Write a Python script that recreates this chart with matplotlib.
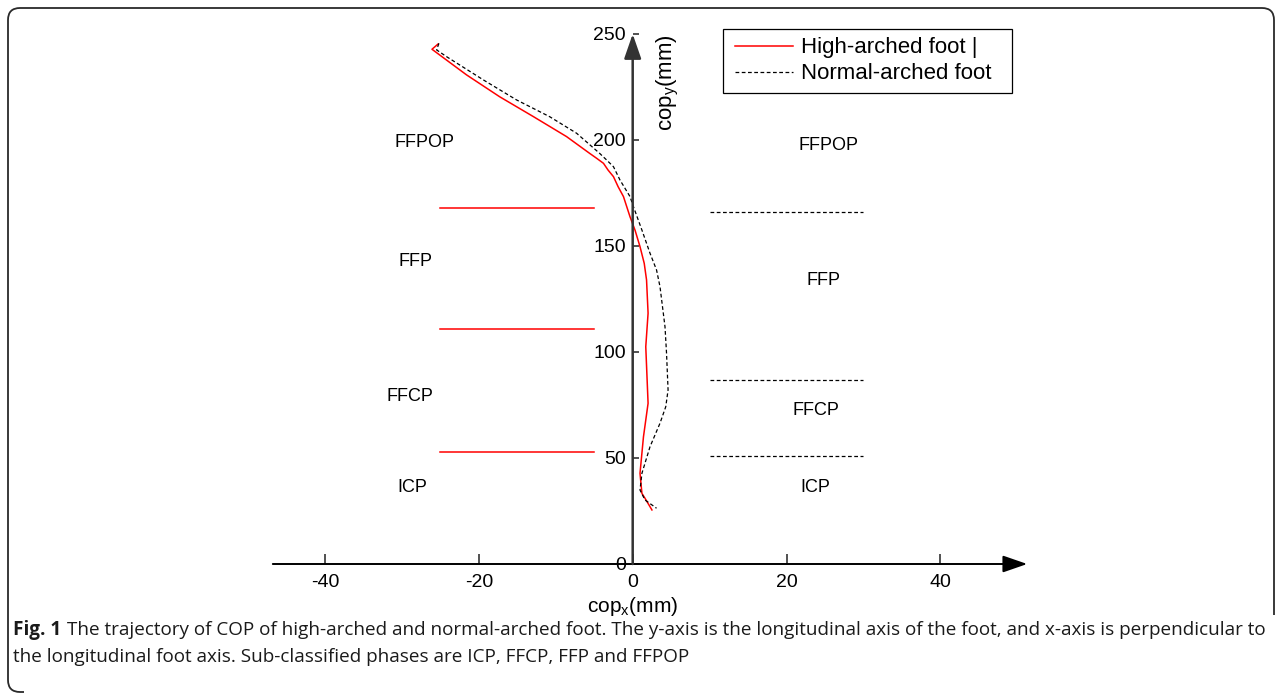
#!/usr/bin/env python3

import matplotlib
matplotlib.use("Agg")
import matplotlib.pyplot as plt
from matplotlib import font_manager
from matplotlib.path import Path
from matplotlib.patches import PathPatch, Rectangle

# COP trajectories (mm)
high_x = [-25.3, -26.1, -25.1, -21.6, -17.3, -12.9, -8.6, -5.6, -4.7, -3.8, -3.2,
          -2.5, -1.9, -1.2, -0.35, 0.3, 0.95, 1.5, 1.8, 2.0, 1.7, 2.0, 1.4, 0.95,
          1.2, 1.6, 2.5]
high_y = [245.3, 242.8, 240.1, 230.7, 220.4, 211.0, 201.6, 193.7, 191.4, 189.0, 185.8,
          182.7, 178.0, 173.3, 163.8, 157.5, 149.7, 141.8, 134.0, 118.3, 102.5, 75.8,
          60.0, 42.8, 33.3, 31.0, 25.5]
normal_x = [-25.2, -25.5, -24.2, -19.4, -15.1, -10.8, -7.3, -4.3, -3.4, -2.5, -1.65,
            -0.35, 0.1, 1.2, 2.25, 3.1, 3.55, 4.2, 4.4, 4.6, 4.3, 3.55, 2.25, 1.2,
            0.95, 1.6, 3.1]
normal_y = [245.6, 242.5, 239.3, 228.3, 218.9, 211.0, 203.2, 193.7, 190.6, 187.4, 181.1,
            173.3, 168.5, 157.5, 146.6, 138.7, 130.8, 111.9, 99.4, 82.1, 74.2, 66.4,
            55.3, 42.8, 34.9, 30.2, 26.3]

# phase boundaries
high_bound_y = [168, 111, 53]
high_bound_x = [-25, -5]
normal_bound_y = [166, 87, 51]
normal_bound_x = [10, 30]

phases = ["FFPOP", "FFP", "FFCP", "ICP"]
left_lab_x = [-27.1, -28.3, -29.0, -28.7]
left_lab_y = [199.0, 142.5, 79.2, 36.3]
right_lab_x = [25.4, 24.8, 23.8, 23.7]
right_lab_y = [197.6, 133.5, 72.6, 36.3]

xticks = [-40, -20, 0, 20, 40]
yticks = [0, 50, 100, 150, 200, 250]

caption1_rest = ("The trajectory of COP of high-arched and normal-arched foot. The y-axis is the "
                 "longitudinal axis of the foot, and x-axis is perpendicular to")
caption2 = "the longitudinal foot axis. Sub-classified phases are ICP, FFCP, FFP and FFPOP"


def pick_caption_font():
    for fam in ["Liberation Sans Narrow", "Open Sans"]:
        try:
            font_manager.findfont(font_manager.FontProperties(family=fam),
                                  fallback_to_default=False)
            return fam
        except Exception:
            pass
    return "DejaVu Sans"


def main():
    plt.rcParams["font.family"] = ["Liberation Sans", "DejaVu Sans"]
    plt.rcParams["mathtext.fontset"] = "custom"
    plt.rcParams["mathtext.rm"] = "Liberation Sans"
    plt.rcParams["mathtext.it"] = "Liberation Sans"
    plt.rcParams["mathtext.default"] = "regular"
    plt.rcParams["axes.unicode_minus"] = False

    W, H = 1281, 699
    fig = plt.figure(figsize=(W / 100, H / 100), dpi=100)

    # pixel mapping of the reference: x0=632.7, 7.69 px/mm ; y0=564, 2.12 px/mm
    x0, sx, y0, sy = 632.7, 7.69, 564.0, 2.12
    xlim = (-50, 55)
    ylim = (-5, 255)
    left = (x0 + xlim[0] * sx) / W
    width = (xlim[1] - xlim[0]) * sx / W
    bottom = (H - (y0 - ylim[0] * sy)) / H
    height = (ylim[1] - ylim[0]) * sy / H
    ax = fig.add_axes([left, bottom, width, height])
    ax.set_xlim(*xlim)
    ax.set_ylim(*ylim)

    for s in ["top", "right", "left", "bottom"]:
        ax.spines[s].set_visible(False)
    ax.spines["left"].set_position(("data", 0))
    ax.spines["bottom"].set_position(("data", 0))
    ax.patch.set_visible(False)

    ax.set_xticks(xticks)
    ax.set_yticks(yticks)
    ax.tick_params(axis="x", direction="in", length=7, width=1.1, pad=7,
                   labelsize=14, color="#222222")
    ax.tick_params(axis="y", direction="in", length=4, width=1.1, pad=5,
                   labelsize=14, color="#222222")

    # axis arrows
    ax.annotate("", xy=(51.3, 0), xytext=(-46.8, 0),
                arrowprops=dict(arrowstyle="-|>,head_length=0.75,head_width=0.26",
                                lw=1.4, color="black", shrinkA=0, shrinkB=0,
                                mutation_scale=20))
    ax.annotate("", xy=(0, 250), xytext=(0, 0),
                arrowprops=dict(arrowstyle="-|>,head_length=0.75,head_width=0.26",
                                lw=1.8, color="#333333", shrinkA=0, shrinkB=0,
                                mutation_scale=20))

    ax.plot(high_x, high_y, color="red", lw=1.1, label="High-arched foot |")
    ax.plot(normal_x, normal_y, color="black", lw=0.9, linestyle=(0, (3, 2)),
            label="Normal-arched foot")

    for yb in high_bound_y:
        ax.plot(high_bound_x, [yb, yb], color="red", lw=1.1)
    for yb in normal_bound_y:
        ax.plot(normal_bound_x, [yb, yb], color="black", lw=0.9, linestyle=(0, (3, 2)))

    for name, px, py in zip(phases, left_lab_x, left_lab_y):
        ax.text(px, py, name, fontsize=13, ha="center", va="center")
    for name, px, py in zip(phases, right_lab_x, right_lab_y):
        ax.text(px, py, name, fontsize=13, ha="center", va="center")

    fig.text(x0 / W, 1 - 607 / H, "cop$_{x}$(mm)", fontsize=15, ha="center", va="center")
    ax.text(4.6, 227, "cop$_{y}$(mm)", fontsize=16, rotation=90, ha="center", va="center")

    ax.legend(loc="upper left", bbox_to_anchor=(735 / W, 1 - 37.5 / H),
              bbox_transform=fig.transFigure, borderaxespad=0, frameon=False,
              fontsize=16, handlelength=2.6, handletextpad=0.35,
              borderpad=0, labelspacing=0.22)
    fig.add_artist(Rectangle((723 / W, 1 - 92.7 / H), (1012 - 723) / W, 63.4 / H,
                             transform=fig.transFigure, fill=False,
                             edgecolor="black", lw=0.9))

    # caption
    cap_font = pick_caption_font()
    renderer = fig.canvas.get_renderer()
    size = 12.0
    t_bold = fig.text(13 / W, 1 - 630 / H, "Fig. 1", fontsize=size, weight="bold",
                      family=cap_font, color="#1a1a1a", va="center")
    bb = t_bold.get_window_extent(renderer)
    t_rest = fig.text((bb.x1 + 5) / W, 1 - 630 / H, caption1_rest, fontsize=size,
                      family=cap_font, color="#1a1a1a", va="center")
    total = t_rest.get_window_extent(renderer).x1 - 13
    size = size * 1250 / total
    t_bold.set_fontsize(size)
    bb = t_bold.get_window_extent(renderer)
    t_rest.set_fontsize(size)
    t_rest.set_x((bb.x1 + size * 0.4) / W)
    fig.text(13 / W, 1 - 657 / H, caption2, fontsize=size, family=cap_font,
             color="#1a1a1a", va="center")

    # rounded frame around the figure panel
    r = 12
    verts = [(1274, 615), (1274, 8 + r), (1274, 8), (1274 - r, 8),
             (8 + r, 8), (8, 8), (8, 8 + r),
             (8, 692 - r), (8, 692), (8 + r, 692), (24, 692)]
    codes = [Path.MOVETO, Path.LINETO, Path.CURVE3, Path.CURVE3,
             Path.LINETO, Path.CURVE3, Path.CURVE3,
             Path.LINETO, Path.CURVE3, Path.CURVE3, Path.LINETO]
    verts = [(vx / W, 1 - vy / H) for vx, vy in verts]
    fig.add_artist(PathPatch(Path(verts, codes), transform=fig.transFigure,
                             fill=False, edgecolor="#2a2a2a", lw=1.3))

    fig.savefig("out.png", dpi=100)


if __name__ == "__main__":
    main()
